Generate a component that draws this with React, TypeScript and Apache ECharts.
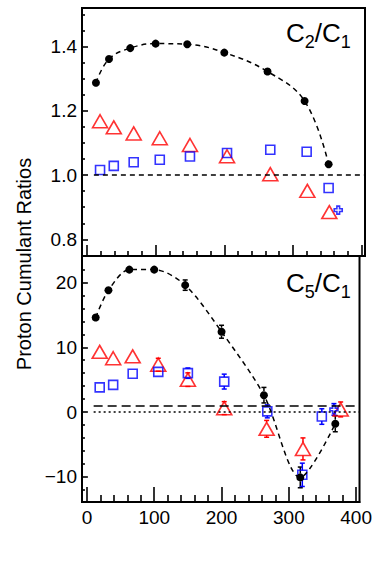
import React, { useEffect, useRef } from "react";
import * as echarts from "echarts";

// ---------- data ----------
// top panel: C2/C1
const topBlackX = [13, 32, 63, 100, 146, 200, 263, 317, 352];
const topBlackY = [1.288, 1.362, 1.396, 1.41, 1.408, 1.382, 1.323, 1.231, 1.034];
const topRedX = [19, 39, 68, 106, 150, 204, 267, 321, 353];
const topRedY = [1.168, 1.149, 1.13, 1.115, 1.094, 1.059, 1.003, 0.951, 0.885];
const topBlueX = [19, 39, 68, 106, 150, 204, 267, 320, 352];
const topBlueY = [1.016, 1.029, 1.04, 1.048, 1.058, 1.069, 1.079, 1.073, 0.96];
const topCrossX = [366];
const topCrossY = [0.891];

// bottom panel: C5/C1
const botBlackX = [13, 32, 63, 100, 146, 200, 263, 317, 369];
const botBlackY = [14.6, 18.8, 22.0, 22.0, 19.6, 12.4, 2.6, -10.1, -1.8];
const botBlackE = [0, 0, 0, 0, 0.8, 1.0, 1.2, 1.6, 1.25];
const botRedX = [19, 39, 68, 106, 150, 204, 267, 321, 377];
const botRedY = [9.3, 8.3, 8.6, 7.3, 5.0, 0.6, -2.6, -5.7, 0.4];
const botRedE = [0, 0, 0, 1.0, 1.05, 1.0, 1.3, 1.7, 1.15];
const botBlueX = [19, 39, 68, 106, 150, 204, 268, 320, 349];
const botBlueY = [3.8, 4.2, 5.9, 6.2, 6.0, 4.7, 0.1, -9.7, -0.7];
const botBlueE = [0, 0, 0, 0, 0.8, 1.15, 1.0, 1.8, 1.2];
const botCrossX = [367];
const botCrossY = [0.4];
const botCrossE = [0.9];

// axes ticks
const xMajor = [0, 100, 200, 300, 400];
const xMinor = [20, 40, 60, 80, 120, 140, 160, 180, 220, 240, 260, 280, 320, 340, 360, 380];
const topYMajor = [0.8, 1.0, 1.2, 1.4];
const topYMinor = [0.85, 0.9, 0.95, 1.05, 1.1, 1.15, 1.25, 1.3, 1.35, 1.45, 1.5];
const botYMajor = [-10, 0, 10, 20];
const botYMinor = [-12, -8, -6, -4, -2, 2, 4, 6, 8, 12, 14, 16, 18, 22];

const X_MIN = -7.3;
const X_MAX = 405;
const TOP_MIN = 0.748;
const TOP_MAX = 1.521;
const BOT_MIN = -13.9;
const BOT_MAX = 24.1;

// layout (px)
const GRID_LEFT = 82;
const GRID_W = 283;
const TOP_TOP = 8;
const TOP_H = 248;
const BOT_TOP = 256;
const BOT_H = 246;

const FONT = "Liberation Sans, Arial, Helvetica, sans-serif";
const BLUE = "#0000ff";
const RED = "#ff0000";
const CROSS = "path://M1,0H2V1H3V2H2V3H1V2H0V1H1Z";

function zip(xs: number[], ys: number[]) {
  return xs.map((x, i) => [x, ys[i]]);
}

const TICK_STYLE = { type: "solid", color: "#000", width: 1.6 };

// tick marks as markLine segments (pixel length converted into axis units)
function xTickLines(vals: number[], edge: number, lenPx: number, pxPerUnit: number) {
  const d = lenPx / pxPerUnit;
  return vals.map((v) => [
    { coord: [v, edge], lineStyle: TICK_STYLE },
    { coord: [v, edge + d] },
  ]);
}
function yTickLines(vals: number[], lenPx: number, pxPerUnit: number) {
  const d = lenPx / pxPerUnit;
  return vals.map((v) => [
    { coord: [X_MIN, v], lineStyle: TICK_STYLE },
    { coord: [X_MIN + d, v] },
  ]);
}

// error bars drawn outside the marker (gap = half marker height, px)
function errSeries(xs: number[], ys: number[], es: number[], color: string, xi: number, yi: number, cap: number, gap: number) {
  return {
    type: "custom",
    xAxisIndex: xi,
    yAxisIndex: yi,
    data: xs.map((x, i) => [x, ys[i], es[i]]),
    encode: { x: 0, y: 1 },
    z: 3,
    renderItem: (params: any, api: any) => {
      const x = api.value(0);
      const y = api.value(1);
      const e = api.value(2);
      if (!e) return { type: "group", children: [] };
      const c = api.coord([x, y]);
      const lo = api.coord([x, y - e]);
      const hi = api.coord([x, y + e]);
      const style = { stroke: color, lineWidth: 1.5, fill: "none" };
      const children: any[] = [
        { type: "line", shape: { x1: lo[0] - cap, y1: lo[1], x2: lo[0] + cap, y2: lo[1] }, style },
        { type: "line", shape: { x1: hi[0] - cap, y1: hi[1], x2: hi[0] + cap, y2: hi[1] }, style },
      ];
      if (c[1] - hi[1] > gap) {
        children.push({ type: "line", shape: { x1: hi[0], y1: hi[1], x2: c[0], y2: c[1] - gap }, style });
      }
      if (lo[1] - c[1] > gap) {
        children.push({ type: "line", shape: { x1: c[0], y1: c[1] + gap, x2: lo[0], y2: lo[1] }, style });
      }
      return { type: "group", children };
    },
  };
}

function xAxis(gridIndex: number, showLabels: boolean) {
  return {
    type: "value",
    gridIndex,
    min: X_MIN,
    max: X_MAX,
    position: "bottom",
    axisLine: { show: true, onZero: false, lineStyle: { color: "#000", width: 2 } },
    axisTick: { show: false },
    splitLine: { show: false },
    axisLabel: {
      show: showLabels,
      customValues: xMajor,
      margin: 6,
      fontSize: 19,
      color: "#000",
      fontFamily: FONT,
    },
  };
}

function yAxis(gridIndex: number, min: number, max: number, major: number[], fmt: (v: number) => string) {
  return {
    type: "value",
    gridIndex,
    min,
    max,
    position: "left",
    axisLine: { show: true, onZero: false, lineStyle: { color: "#000", width: 2 } },
    axisTick: { show: false },
    splitLine: { show: false },
    axisLabel: { show: true, customValues: major, formatter: fmt, margin: 5, fontSize: 19, color: "#000", fontFamily: FONT },
  };
}

function openScatter(data: number[][], symbol: string, size: any, color: string, xi: number, yi: number, z = 4) {
  return {
    type: "scatter",
    xAxisIndex: xi,
    yAxisIndex: yi,
    data,
    symbol,
    symbolSize: size,
    z,
    itemStyle: { color: "rgba(0,0,0,0)", borderColor: color, borderWidth: 1.6 },
  };
}

function subText(sub: string, x: number, yMain: number) {
  const mainSize = 26;
  const subSize = 18;
  const cw = 0.722 * mainSize;
  const dw = 0.556 * subSize;
  const sw = 0.278 * mainSize;
  const common = { fill: "#000", fontFamily: FONT, verticalAlign: "middle", align: "left" };
  return [
    { type: "text", x, y: yMain, style: { ...common, text: "C", fontSize: mainSize } },
    { type: "text", x: x + cw, y: yMain + 9, style: { ...common, text: sub, fontSize: subSize } },
    { type: "text", x: x + cw + dw, y: yMain, style: { ...common, text: "/C", fontSize: mainSize } },
    { type: "text", x: x + cw + dw + sw + cw, y: yMain + 9, style: { ...common, text: "1", fontSize: subSize } },
  ];
}

export default function App() {
  const ref = useRef<HTMLDivElement>(null);
  useEffect(() => {
    if (!ref.current) return;
    const chart = echarts.init(ref.current, undefined, { renderer: "svg" });
    const fmtTop = (v: number) => v.toFixed(1);
    const fmtBot = (v: number) => (v < 0 ? "\u2212" + Math.abs(v) : String(v));

    const pxX = GRID_W / (X_MAX - X_MIN);
    const pxTop = TOP_H / (TOP_MAX - TOP_MIN);
    const pxBot = BOT_H / (BOT_MAX - BOT_MIN);

    const topTicks = [
      ...xTickLines(xMajor, TOP_MIN, 11, pxTop),
      ...xTickLines(xMinor, TOP_MIN, 5, pxTop),
      ...yTickLines(topYMajor, 6, pxX),
      ...yTickLines(topYMinor, 3, pxX),
    ];
    const botTicks = [
      ...xTickLines(xMajor, BOT_MIN, 15, pxBot),
      ...xTickLines(xMinor, BOT_MIN, 7, pxBot),
      ...yTickLines(botYMajor, 6, pxX),
      ...yTickLines(botYMinor, 3, pxX),
    ];

    const option: any = {
      animation: false,
      grid: [
        { left: GRID_LEFT, top: TOP_TOP, width: GRID_W, height: TOP_H, show: true, borderColor: "#000", borderWidth: 2 },
        { left: GRID_LEFT, top: BOT_TOP, width: GRID_W, height: BOT_H, show: true, borderColor: "#000", borderWidth: 2 },
      ],
      xAxis: [xAxis(0, false), xAxis(1, true)],
      yAxis: [
        yAxis(0, TOP_MIN, TOP_MAX, topYMajor, fmtTop),
        yAxis(1, BOT_MIN, BOT_MAX, botYMajor, fmtBot),
      ],
      graphic: [
        {
          type: "text",
          x: 24,
          y: 264,
          rotation: Math.PI / 2,
          style: {
            text: "Proton Cumulant Ratios",
            fill: "#000",
            fontFamily: FONT,
            fontSize: 20,
            align: "center",
            verticalAlign: "middle",
          },
        },
        ...subText("2", 286, 33),
        ...subText("5", 286, 283),
      ],
      series: [
        // ---- top panel ----
        {
          type: "line",
          xAxisIndex: 0,
          yAxisIndex: 0,
          data: zip(topBlackX, topBlackY),
          smooth: 0.4,
          symbol: "circle",
          symbolSize: 8,
          z: 5,
          itemStyle: { color: "#000" },
          lineStyle: { color: "#000", width: 1.5, type: [5, 4] },
          markLine: {
            silent: true,
            symbol: "none",
            label: { show: false },
            lineStyle: { color: "#000", width: 1.5, type: [5, 4] },
            data: [
              [
                { coord: [10, 1], lineStyle: { color: "#000", width: 1.5, type: [5, 4] } },
                { coord: [X_MAX, 1] },
              ],
              ...topTicks,
            ],
          },
        },
        openScatter(zip(topRedX, topRedY), "triangle", [15, 13], RED, 0, 0),
        openScatter(zip(topBlueX, topBlueY), "rect", 9, BLUE, 0, 0),
        openScatter(zip(topCrossX, topCrossY), CROSS, 8, BLUE, 0, 0),
        // ---- bottom panel ----
        errSeries(botBlackX, botBlackY, botBlackE, "#000", 1, 1, 2.5, 4),
        errSeries(botRedX, botRedY, botRedE, RED, 1, 1, 2.5, 6.5),
        errSeries(botBlueX, botBlueY, botBlueE, BLUE, 1, 1, 2.5, 4.5),
        errSeries(botCrossX, botCrossY, botCrossE, BLUE, 1, 1, 2.5, 4),
        {
          type: "line",
          xAxisIndex: 1,
          yAxisIndex: 1,
          data: zip(botBlackX, botBlackY),
          smooth: 0.3,
          symbol: "circle",
          symbolSize: 8,
          z: 5,
          itemStyle: { color: "#000" },
          lineStyle: { color: "#000", width: 1.5, type: [5, 4] },
          markLine: {
            silent: true,
            symbol: "none",
            label: { show: false },
            data: [
              [
                { coord: [10, 1], lineStyle: { color: "#000", width: 1.5, type: [9, 5] } },
                { coord: [X_MAX, 1] },
              ],
              [
                { coord: [10, 0], lineStyle: { color: "#000", width: 1.5, type: [2, 3] } },
                { coord: [X_MAX, 0] },
              ],
              ...botTicks,
            ],
          },
        },
        openScatter(zip(botRedX, botRedY), "triangle", [15, 13], RED, 1, 1),
        openScatter(zip(botBlueX, botBlueY), "rect", 9, BLUE, 1, 1),
        openScatter(zip(botCrossX, botCrossY), CROSS, 8, BLUE, 1, 1),
      ],
    };
    chart.setOption(option);
    return () => chart.dispose();
  }, []);
  return (
    <div
      ref={ref}
      style={{ position: "absolute", left: 0, top: 0, width: 375, height: 566 }}
    />
  );
}
